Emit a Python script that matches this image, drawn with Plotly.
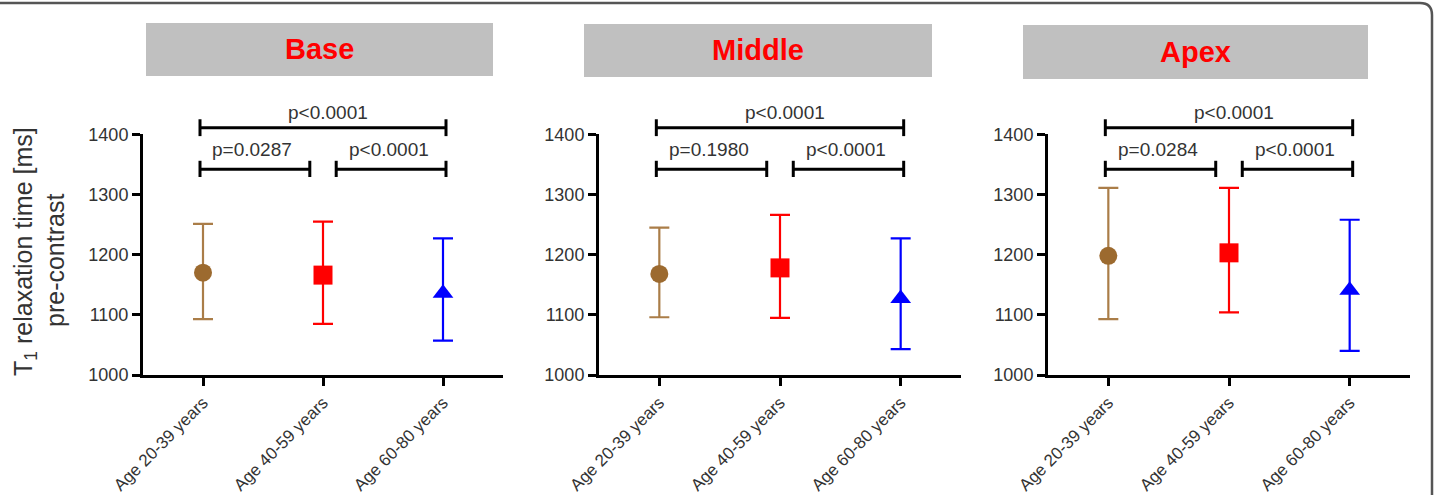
import plotly.graph_objects as go

W, H = 1434, 495

# ---------------- data ----------------
panels = ["Base", "Middle", "Apex"]
categories = ["Age 20-39 years", "Age 40-59 years", "Age 60-80 years"]

base_mean = [1170, 1166, 1136]
base_upper = [1251, 1255, 1227]
base_lower = [1093, 1085, 1057]

middle_mean = [1168, 1178, 1127]
middle_upper = [1245, 1266, 1227]
middle_lower = [1096, 1095, 1043]

apex_mean = [1198, 1203, 1141]
apex_upper = [1311, 1311, 1258]
apex_lower = [1093, 1104, 1040]

p_12 = ["p=0.0287", "p=0.1980", "p=0.0284"]
p_23 = ["p<0.0001", "p<0.0001", "p<0.0001"]
p_13 = ["p<0.0001", "p<0.0001", "p<0.0001"]

y_ticks = [1000, 1100, 1200, 1300, 1400]

means = [base_mean, middle_mean, apex_mean]
uppers = [base_upper, middle_upper, apex_upper]
lowers = [base_lower, middle_lower, apex_lower]

# ---------------- styles ----------------
marker_colors = ["#9C6A2F", "#FF0000", "#0000FF"]
bar_colors = ["#AA7D48", "#FF0000", "#0000FF"]
symbols = ["circle", "square", "triangle-up"]
msizes = [18, 19, 18]
txt_col = "#333333"
FONT = "Liberation Sans, Arial, sans-serif"


def px(x):
    return x / W


def py(y):
    return 1 - y / H


x_pix = [(143, 503), (599, 961), (1048, 1410)]
y_bot, y_top, y_ext = 375, 134.3, 100
yd = [py(y_bot), py(y_top)]
yd_ext = [py(y_bot), py(y_ext)]
ymin, ymax = 1000, 1400
ext_max = ymin + (yd_ext[1] - yd_ext[0]) / (yd[1] - yd[0]) * (ymax - ymin)

title_boxes = [(146, 23, 493, 76), (584, 24, 932, 77), (1023, 25, 1368, 79)]

fig = go.Figure()
layout = dict(
    width=W, height=H, margin=dict(l=0, r=0, t=0, b=0),
    paper_bgcolor="white", plot_bgcolor="rgba(0,0,0,0)", showlegend=False,
    font=dict(family=FONT, color=txt_col),
)
shapes, annotations = [], []
xidx = list(range(len(categories)))

for i, name in enumerate(panels):
    xa = "x" if i == 0 else f"x{i+1}"
    ya = "y" if i == 0 else f"y{i+1}"
    yb = f"y{i+4}"
    xkey = "xaxis" if i == 0 else f"xaxis{i+1}"
    ykey = "yaxis" if i == 0 else f"yaxis{i+1}"
    ybkey = f"yaxis{i+4}"

    layout[xkey] = dict(
        domain=[px(x_pix[i][0]), px(x_pix[i][1])], range=[-0.5, 2.5],
        anchor=ya, tickmode="array", tickvals=xidx, ticktext=categories,
        tickangle=-45, showline=True, linewidth=3, linecolor="black",
        ticks="outside", ticklen=8, tickwidth=3, tickcolor="black",
        tickfont=dict(size=17, color=txt_col, family=FONT),
        showgrid=False, zeroline=False, automargin=False, fixedrange=True,
    )
    layout[ykey] = dict(
        domain=yd, range=[ymin, ymax], anchor=xa,
        tickmode="array", tickvals=y_ticks,
        showline=True, linewidth=3, linecolor="black",
        ticks="outside", ticklen=8, tickwidth=3, tickcolor="black",
        tickfont=dict(size=18, color=txt_col, family=FONT),
        showgrid=False, zeroline=False, automargin=False, fixedrange=True,
    )
    layout[ybkey] = dict(domain=yd_ext, range=[ymin, ext_max], anchor=xa,
                         visible=False, fixedrange=True)

    for g in range(len(categories)):
        m = means[i][g]
        fig.add_trace(go.Scatter(
            x=[xidx[g]], y=[m], xaxis=xa, yaxis=ya, mode="markers",
            marker=dict(symbol=symbols[g], size=msizes[g], color=marker_colors[g]),
            error_y=dict(type="data", symmetric=False,
                         array=[uppers[i][g] - m], arrayminus=[m - lowers[i][g]],
                         color=bar_colors[g], thickness=2.2, width=10),
            cliponaxis=False,
        ))

    # significance brackets
    brackets = [
        (-0.025, 2.025, 1411, 1425, 1397, p_13[i], 1.04, 1436),
        (-0.025, 0.89, 1342, 1356, 1329, p_12[i], 0.41, 1375),
        (1.11, 2.025, 1342, 1356, 1329, p_23[i], 1.55, 1375),
    ]
    for (x0, x1, yh, yt, ylo, txt, tx, ty) in brackets:
        fig.add_trace(go.Scatter(
            x=[x0, x0, None, x0, x1, None, x1, x1],
            y=[ylo, yt, None, yh, yh, None, ylo, yt],
            xaxis=xa, yaxis=yb, mode="lines",
            line=dict(color="black", width=3), hoverinfo="skip",
        ))
        annotations.append(dict(
            x=tx, y=ty, xref=xa, yref=yb, text=txt, showarrow=False,
            font=dict(size=19, color=txt_col, family=FONT),
            xanchor="center", yanchor="middle",
        ))

    # panel title box
    bx0, by0, bx1, by1 = title_boxes[i]
    shapes.append(dict(type="rect", xref="paper", yref="paper",
                       x0=px(bx0), x1=px(bx1), y0=py(by1), y1=py(by0),
                       fillcolor="#C0C0C0", line=dict(width=0), layer="below"))
    annotations.append(dict(
        x=px((bx0 + bx1) / 2), y=py((by0 + by1) / 2), xref="paper", yref="paper",
        text=f"<b>{name}</b>", showarrow=False,
        font=dict(size=29, color="#FF0000", family=FONT),
        xanchor="center", yanchor="middle",
    ))

# y-axis title (two lines)
annotations.append(dict(
    x=px(25), y=py(252), xref="paper", yref="paper",
    text="T<sub>1</sub> relaxation time [ms]", textangle=-90, showarrow=False,
    font=dict(size=25, color=txt_col, family=FONT), xanchor="center", yanchor="middle",
))
annotations.append(dict(
    x=px(55), y=py(261), xref="paper", yref="paper",
    text="pre-contrast", textangle=-90, showarrow=False,
    font=dict(size=25, color=txt_col, family=FONT), xanchor="center", yanchor="middle",
))

# outer rounded frame
r = 12
path = (f"M {px(0)},{py(3)} L {px(1432 - r)},{py(3)} "
        f"Q {px(1432)},{py(3)} {px(1432)},{py(3 + r)} L {px(1432)},{py(495)}")
shapes.append(dict(type="path", xref="paper", yref="paper", path=path,
                   line=dict(color="#555555", width=2.5)))

layout["shapes"] = shapes
layout["annotations"] = annotations
fig.update_layout(**layout)
fig.write_html("out.html")
